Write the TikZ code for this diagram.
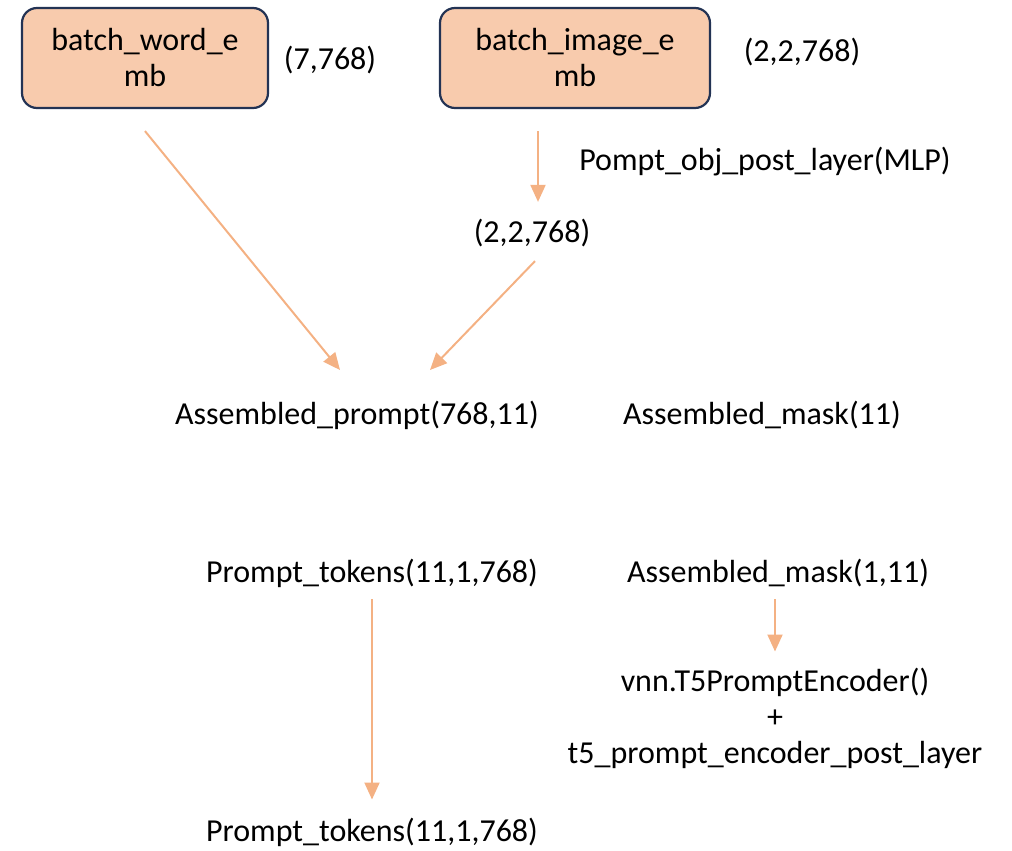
\documentclass[tikz,border=0pt]{standalone}
\usepackage{fontspec}
\setmainfont{Carlito}
\usetikzlibrary{arrows.meta,positioning}
\definecolor{boxfill}{HTML}{F8CBAD}
\definecolor{boxline}{HTML}{233354}
\definecolor{flowcol}{HTML}{F4B183}
\begin{document}
\begin{tikzpicture}
	[x=1pt,y=-1pt,
	embbox/.style={draw=boxline,line width=2.2pt,fill=boxfill,rounded corners=15pt,
		minimum width=246pt,minimum height=100pt,align=center,inner sep=0pt},
	lbl/.style={align=center,inner sep=0pt},
	flow/.style={draw=flowcol,line width=2pt,-{Triangle[length=17pt,width=15pt]}},
	every node/.style={font=\fontsize{32}{36}\selectfont}]
	\useasboundingbox (0,0) rectangle (1012,851);
	\node[embbox] (wordemb) at (145,58) {batch\_word\_e\\mb};
	\node[embbox,minimum width=270pt] (imgemb) at (575,58) {batch\_image\_e\\mb};
	\node[lbl] (wordshape) at (330,60) {(7,768)};
	\node[lbl] (imgshape) at (802,52) {(2,2,768)};
	\node[lbl] (mlp) at (765,162) {Pompt\_obj\_post\_layer(MLP)};
	\node[lbl] (imgpost) at (532,233) {(2,2,768)};
	\node[lbl] (aprompt) at (357,415) {Assembled\_prompt(768,11)};
	\node[lbl] (amask) at (762,415) {Assembled\_mask(11)};
	\node[lbl] (ptokens) at (372,573) {Prompt\_tokens(11,1,768)};
	\node[lbl] (amaskb) at (778,573) {Assembled\_mask(1,11)};
	\node[lbl] (encoder) at (775,718) {vnn.T5PromptEncoder()\\+\\t5\_prompt\_encoder\_post\_layer};
	\node[lbl] (ptokensb) at (372,832) {Prompt\_tokens(11,1,768)};
	% arrows
	\coordinate (wordend) at (340,370);
	\coordinate (imgend) at (430,370);
	\draw[flow] ([xshift=-37pt,yshift=-22pt]imgemb.south) -- ([xshift=6pt,yshift=17pt]imgpost.north);
	\draw[flow] ([yshift=-22pt]wordemb.south) -- (wordend);
	\draw[flow] ([xshift=3pt,yshift=-14pt]imgpost.south) -- (imgend);
	\draw[flow] ([yshift=-12pt]ptokens.south) -- ([yshift=18pt]ptokensb.north);
	\draw[flow] ([yshift=-12pt,xshift=-3pt]amaskb.south) -- ([yshift=16pt,xshift=0pt]encoder.north);
\end{tikzpicture}
\end{document}
